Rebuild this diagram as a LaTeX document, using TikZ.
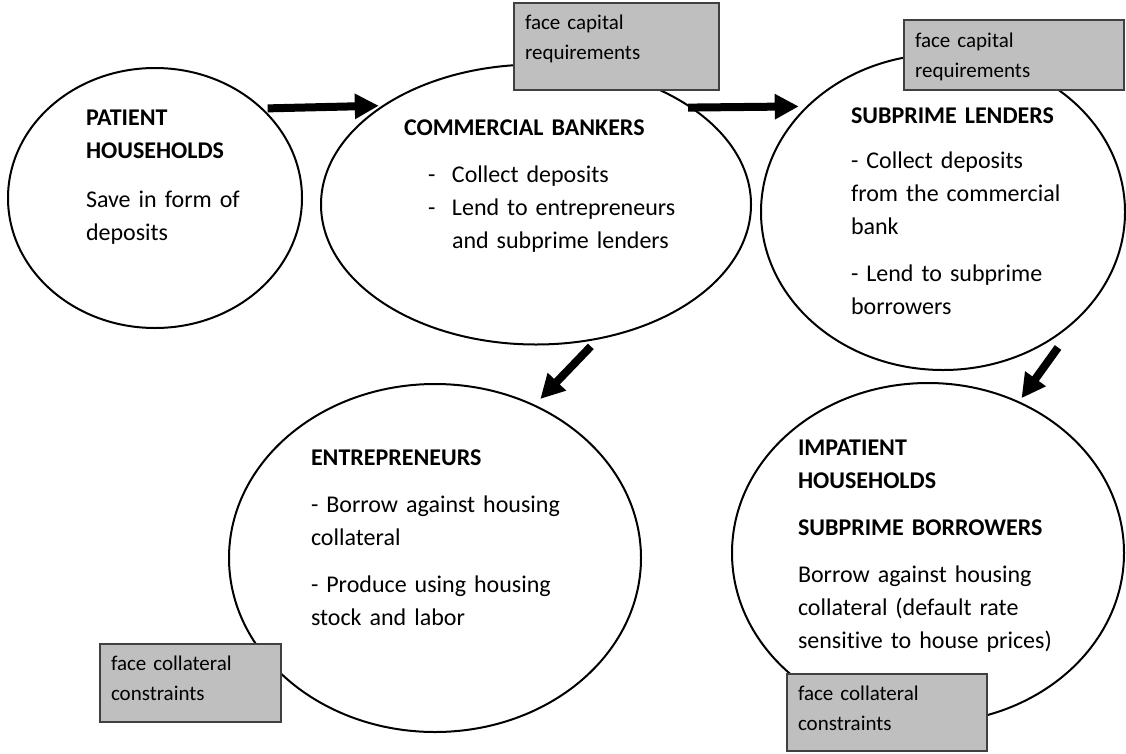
\documentclass[tikz,border=0pt]{standalone}
\usepackage{fontspec}
\setmainfont{Carlito}[Ligatures=NoCommon, WordSpace=0.8]
\usetikzlibrary{arrows.meta,shapes.geometric}
\definecolor{boxfill}{HTML}{BFBFBF}
\definecolor{boxline}{HTML}{404040}
\begin{document}
\begin{tikzpicture}[x=1pt,y=-1pt,
  ell/.style={draw=black, line width=2pt, ellipse, inner sep=0pt, outer sep=0pt, fill=white},
  gbox/.style={draw=boxline, line width=1.5pt, fill=boxfill, rectangle, inner sep=0pt, outer sep=0pt},
  txt/.style={anchor=base west, inner sep=0pt, outer sep=0pt, align=left, text width=330pt, font=\fontsize{24}{33}\selectfont},
  btxt/.style={anchor=base west, inner sep=0pt, outer sep=0pt, align=left, text width=200pt, font=\fontsize{21}{30}\selectfont},
  bigarrow/.style={line width=8pt, -{Triangle[length=24pt,width=24pt]}}
]
\fill[white] (0,0) rectangle (1126,753);
\useasboundingbox (0,0) rectangle (1126,753);

% ellipses
\node[ell, minimum width=294pt, minimum height=260pt] (e1) at (155,198) {};
\node[ell, minimum width=430pt, minimum height=280pt] (e2) at (536,204.5) {};
\node[ell, minimum width=364pt, minimum height=316pt] (e3) at (943,212) {};
\node[ell, minimum width=412pt, minimum height=348pt] (e4) at (435,558) {};
\node[ell, minimum width=392pt, minimum height=340pt] (e5) at (928,553) {};

% grey boxes
\node[gbox, minimum width=205pt, minimum height=87pt] (ba) at (616.5,46.5) {};
\node[gbox, minimum width=220pt, minimum height=70pt] (bb) at (1014,55) {};
\node[gbox, minimum width=181pt, minimum height=78pt] (bc) at (190.5,683) {};
\node[gbox, minimum width=200pt, minimum height=77pt] (bd) at (887,712.5) {};

% ellipse texts
\node[txt] (t1) at (86,125) {\textbf{PATIENT}\\
\textbf{HOUSEHOLDS}\\[16pt]
Save in form of\\
deposits};

\node[txt] (t2) at (404,135) {\textbf{COMMERCIAL BANKERS}\\[14pt]
\hspace*{24pt}\makebox[24pt][l]{-}Collect deposits\\
\hspace*{24pt}\makebox[24pt][l]{-}Lend to entrepreneurs\\
\hspace*{48pt}and subprime lenders};

\node[txt] (t3) at (851,123) {\textbf{SUBPRIME LENDERS}\\[12pt]
- Collect deposits\\
from the commercial\\
bank\\[14pt]
- Lend to subprime\\
borrowers};

\node[txt] (t4) at (311,465) {\textbf{ENTREPRENEURS}\\[14pt]
- Borrow against housing\\
collateral\\[14pt]
- Produce using housing\\
stock and labor};

\node[txt] (t5) at (798,455) {\textbf{IMPATIENT}\\
\textbf{HOUSEHOLDS}\\[14pt]
\textbf{SUBPRIME BORROWERS}\\[14pt]
Borrow against housing\\
collateral (default rate\\
sensitive to house prices)};

% box texts
\node[btxt] (ta) at (525,29) {face capital\\requirements};
\node[btxt] (tb) at (915,47) {face capital\\requirements};
\node[btxt] (tc) at (111,670) {face collateral\\constraints};
\node[btxt] (td) at (798,700) {face collateral\\constraints};

% arrows
\draw[bigarrow, shorten <=6pt, shorten >=5pt] (e1.40.9) -- (e2.147.7);
\draw[bigarrow, shorten <=-3pt, shorten >=9pt] (e2.32.3) -- (e3.142.3);
\draw[bigarrow, shorten <=11pt, shorten >=9pt] (e2.295.6) -- (e4.57.9);
\draw[bigarrow, shorten <=42pt, shorten >=5pt] (e3.324) -- (e5.59.9);
\end{tikzpicture}
\end{document}
